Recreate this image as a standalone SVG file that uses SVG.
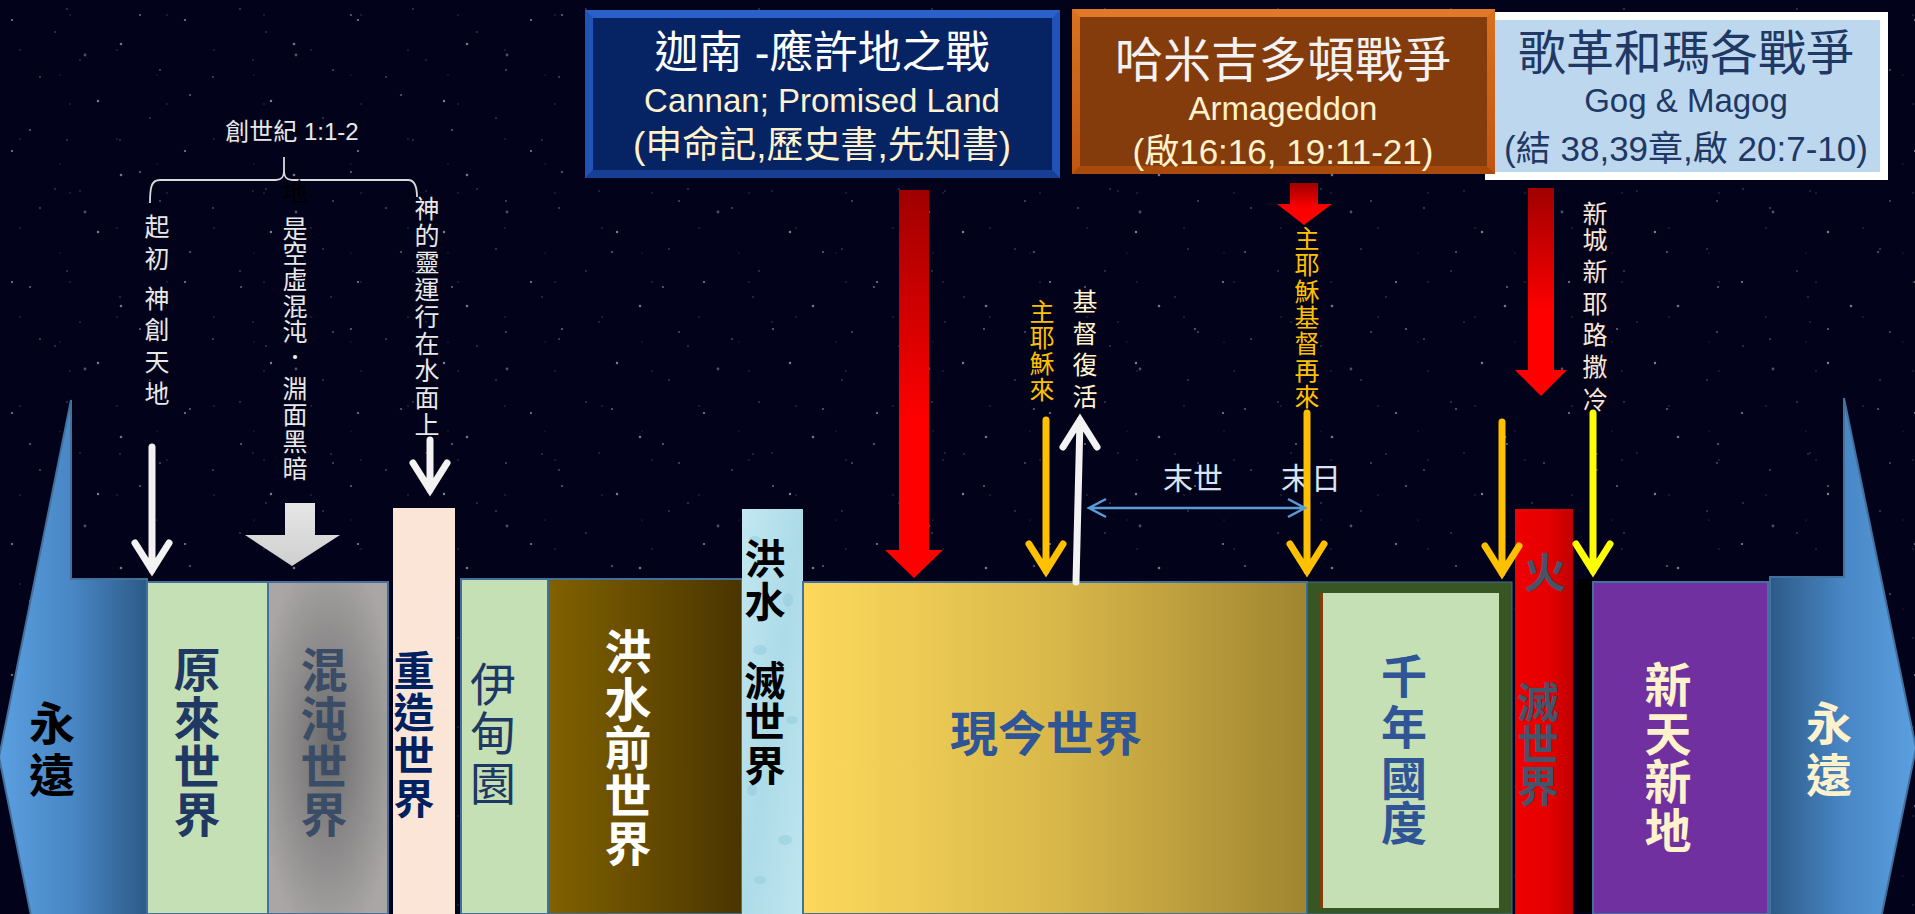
<svg xmlns="http://www.w3.org/2000/svg" width="1915" height="914" viewBox="0 0 1915 914">
<defs>
<style>
.cjk{font-family:'Noto Sans CJK TC','Noto Sans CJK SC',sans-serif}
.mix{font-family:'Liberation Sans','Noto Sans CJK TC',sans-serif;text-anchor:middle}
.vb{font-family:'Noto Sans CJK TC','Noto Sans CJK SC',sans-serif;font-weight:700;text-anchor:middle}
.vs{font-family:'Noto Sans CJK TC','Noto Sans CJK SC',sans-serif;font-size:25px;text-anchor:middle}
.blk{stroke:#41719c;stroke-width:2}
.arr{fill:none;stroke-width:7;stroke-linecap:round;stroke-linejoin:miter}
.w{stroke:#f2f2f2}
.o{stroke:#ffc000}
.y{stroke:#ffff00}
.red{fill:url(#gRed)}
.star{fill:#ffffff}
</style>
<pattern id="stars1" width="173" height="131" patternUnits="userSpaceOnUse">
<circle class="star" cx="12" cy="20" r="1.1" opacity="0.5"/>
<circle class="star" cx="67" cy="9" r="0.8" opacity="0.35"/>
<circle class="star" cx="121" cy="44" r="1.3" opacity="0.45"/>
<circle class="star" cx="40" cy="77" r="0.9" opacity="0.3"/>
<circle class="star" cx="98" cy="101" r="1.2" opacity="0.5"/>
<circle class="star" cx="150" cy="118" r="0.8" opacity="0.35"/>
<circle class="star" cx="160" cy="70" r="1" opacity="0.3"/>
<circle class="star" cx="80" cy="60" r="0.7" opacity="0.3"/>
</pattern>
<pattern id="stars2" width="211" height="157" patternUnits="userSpaceOnUse">
<circle class="star" cx="30" cy="130" r="1" opacity="0.4"/>
<circle class="star" cx="85" cy="55" r="1.4" opacity="0.3"/>
<circle class="star" cx="140" cy="15" r="0.9" opacity="0.45"/>
<circle class="star" cx="190" cy="95" r="1.1" opacity="0.35"/>
<circle class="star" cx="55" cy="32" r="0.7" opacity="0.4"/>
<circle class="star" cx="120" cy="140" r="0.8" opacity="0.3"/>
</pattern>
<pattern id="stars3" width="97" height="89" patternUnits="userSpaceOnUse">
<circle class="star" cx="20" cy="50" r="0.7" opacity="0.25"/>
<circle class="star" cx="70" cy="15" r="0.8" opacity="0.2"/>
<circle class="star" cx="60" cy="75" r="0.6" opacity="0.25"/>
</pattern>
<linearGradient id="gRed" x1="0" y1="0" x2="0" y2="1">
<stop offset="0" stop-color="#a00000"/>
<stop offset="0.6" stop-color="#ff0000"/>
<stop offset="1" stop-color="#ff0000"/>
</linearGradient>
<linearGradient id="gGray" x1="0" y1="0" x2="0" y2="1">
<stop offset="0" stop-color="#e6e6e6"/>
<stop offset="1" stop-color="#cfcfcf"/>
</linearGradient>
<linearGradient id="gLeft" x1="0" y1="0" x2="1" y2="0">
<stop offset="0" stop-color="#5b9fe0"/>
<stop offset="0.5" stop-color="#4886c4"/>
<stop offset="1" stop-color="#2d5a87"/>
</linearGradient>
<linearGradient id="gRight" x1="0" y1="0" x2="1" y2="0">
<stop offset="0" stop-color="#2d5a87"/>
<stop offset="0.5" stop-color="#4886c4"/>
<stop offset="1" stop-color="#5b9fe0"/>
</linearGradient>
<radialGradient id="gChaos" cx="0.5" cy="0.5" r="0.6">
<stop offset="0" stop-color="#6c6c6c"/>
<stop offset="1" stop-color="#aaa6a6"/>
</radialGradient>
<linearGradient id="gFlood" x1="0" y1="0" x2="1" y2="0">
<stop offset="0" stop-color="#816100"/>
<stop offset="1" stop-color="#4a3500"/>
</linearGradient>
<linearGradient id="gNow" x1="0" y1="0" x2="1" y2="0">
<stop offset="0" stop-color="#fcd95c"/>
<stop offset="0.5" stop-color="#d9b84a"/>
<stop offset="1" stop-color="#a08530"/>
</linearGradient>
<linearGradient id="gFire" x1="0" y1="0" x2="1" y2="0">
<stop offset="0" stop-color="#ee0000"/>
<stop offset="0.55" stop-color="#e60000"/>
<stop offset="1" stop-color="#c00000"/>
</linearGradient>
<linearGradient id="gWater" x1="0" y1="0" x2="1" y2="1">
<stop offset="0" stop-color="#c2e8f2"/>
<stop offset="0.5" stop-color="#addbe8"/>
<stop offset="1" stop-color="#bfe6f0"/>
</linearGradient>
<linearGradient id="gOrange" x1="0" y1="0" x2="0" y2="1">
<stop offset="0" stop-color="#d8721f"/>
<stop offset="1" stop-color="#c05510"/>
</linearGradient>
</defs>

<rect class="bg" x="0" y="0" width="1915" height="914" fill="#02031a"/>
<rect x="0" y="0" width="1915" height="914" fill="url(#stars1)"/>
<rect x="0" y="0" width="1915" height="914" fill="url(#stars2)"/>
<rect x="0" y="0" width="1915" height="914" fill="url(#stars3)"/>

<!-- eternity arrows -->
<g id="eternity-left">
<polygon points="147,579 71,579 71,400 -1,757 71,1114 71,935 147,935" fill="url(#gLeft)" stroke="#41719c" stroke-width="2"/>
<text class="vb" font-size="46" fill="#000000" x="52 52" y="740 792">永遠</text>
</g>
<g id="eternity-right">
<polygon points="1770,577 1844,577 1844,398 1916,748 1844,1098 1844,919 1770,919" fill="url(#gRight)" stroke="#41719c" stroke-width="2"/>
<text class="vb" font-size="46" fill="#fff2cc" x="1829 1829" y="740 792">永遠</text>
</g>

<!-- timeline blocks -->
<g id="original-world">
<rect class="blk" x="147" y="582" width="121" height="332" fill="#c5e0b4"/>
<text class="vb" font-size="47" fill="#203864" x="197 197 197 197" y="687 736 784 832">原來世界</text>
</g>
<g id="chaos-world">
<rect class="blk" x="268" y="582" width="120" height="332" fill="url(#gChaos)"/>
<text class="vb" font-size="47" fill="#3b4c66" x="324 324 324 324" y="687 736 784 832">混沌世界</text>
</g>
<g id="recreated-world">
<rect x="393" y="508" width="62" height="406" fill="#fbe5d6"/>
<text class="vb" font-size="41" fill="#002060" x="414 414 414 414" y="686 728 771 814">重造世界</text>
</g>
<g id="eden">
<rect class="blk" x="461" y="579" width="87" height="335" fill="#c5e0b4"/>
<text class="cjk" font-size="46" fill="#203864" text-anchor="middle" x="493 493 493" y="701 750 800">伊甸園</text>
</g>
<g id="pre-flood-world">
<rect class="blk" x="548" y="579" width="194" height="335" fill="url(#gFlood)"/>
<text class="vb" font-size="47" fill="#ffffff" x="628 628 628 628 628" y="669 717 765 813 861">洪水前世界</text>
</g>
<g id="flood">
<rect x="742" y="509" width="61" height="405" fill="url(#gWater)"/>
<g fill="#8fcbdc" opacity="0.45">
<ellipse cx="755" cy="540" rx="6" ry="4"/>
<ellipse cx="788" cy="600" rx="5" ry="7"/>
<ellipse cx="760" cy="650" rx="7" ry="5"/>
<ellipse cx="792" cy="720" rx="6" ry="4"/>
<ellipse cx="752" cy="790" rx="5" ry="6"/>
<ellipse cx="785" cy="840" rx="7" ry="5"/>
<ellipse cx="760" cy="880" rx="6" ry="4"/>
</g>
<text class="vb" font-size="41" fill="#000000" x="765 765 765 765 765" y="574 617 696 737 781">洪水滅世界</text>
</g>
<g id="present-world">
<rect class="blk" x="803" y="582" width="504" height="332" fill="url(#gNow)"/>
<text class="vb" font-size="48" fill="#2f5597" x="1046" y="751">現今世界</text>
</g>
<g id="millennium">
<rect x="1307" y="582" width="205" height="332" fill="#375623" stroke="#41719c" stroke-width="1"/>
<rect x="1320" y="593" width="3" height="315" fill="#843c0c"/>
<rect x="1323" y="593" width="176" height="315" fill="#c5e0b4"/>
<text class="vb" font-size="46" fill="#2f5597" x="1404 1404 1404 1404" y="693 744 795 840">千年國度</text>
</g>
<g id="fire-destruction">
<rect x="1515" y="509" width="58" height="405" fill="url(#gFire)"/>
<text class="vb" font-size="42" fill="#44546a" x="1545" y="588">火</text>
<text class="vb" font-size="42" fill="#44546a" x="1538 1538 1538" y="718 760 802">滅世界</text>
</g>
<g id="divider">
<rect x="1577" y="579" width="16" height="333" fill="#000000"/>
</g>
<g id="new-heaven-earth">
<rect class="blk" x="1593" y="582" width="175" height="332" fill="#7030a0"/>
<text class="vb" font-size="47" fill="#fff2cc" x="1668 1668 1668 1668" y="702 751 799 848">新天新地</text>
</g>

<!-- Genesis annotation -->
<g id="genesis">
<text class="mix" font-size="24" fill="#e8e8e8" x="292" y="140">創世紀 1:1-2</text>
<path d="M150,203 C150,188 151,180 160,180 L276,180 C282,180 284,177 284,170 L284,157 M284,170 C284,177 286,180 292,180 L408,180 C415,180 417,188 417,197" fill="none" stroke="#d9d9d9" stroke-width="1.8"/>
<text class="vs" fill="#e8e8e8" x="157 157 157 157 157 157" y="236 268 308 339 371 403">起初神創天地</text>
<text class="vs" fill="#000000" font-size="22" x="295" y="201">地</text>
<text class="vs" fill="#e8e8e8" x="295 295 295 295 295 295 295 295 295 295" y="238 263 289 316 341 367 398 424 451 478">是空虛混沌．淵面黑暗</text>
<text class="vs" fill="#e8e8e8" x="427 427 427 427 427 427 427 427 427" y="218 245 272 299 326 353 380 407 434">神的靈運行在水面上</text>
</g>

<!-- annotation labels -->
<g id="labels">
<text class="vs" fill="#ffc000" x="1042 1042 1042 1042" y="321 347 373 399">主耶穌來</text>
<text class="vs" fill="#fff2cc" x="1085 1085 1085 1085" y="311 343 374 406">基督復活</text>
<text class="vs" fill="#ffc000" x="1307 1307 1307 1307 1307 1307 1307" y="248 274 301 327 353 380 406">主耶穌基督再來</text>
<text class="vs" fill="#fce4d6" x="1595 1595 1595 1595 1595 1595 1595" y="223 249 281 313 344 376 409">新城新耶路撒冷</text>
<text class="cjk" font-size="30" fill="#dae3f3" text-anchor="middle" x="1193" y="489">末世</text>
<text class="cjk" font-size="30" fill="#dae3f3" text-anchor="middle" x="1311" y="489">末日</text>
</g>

<!-- connectors -->
<g id="connectors">
<path class="arr w" d="M152,447 V570 M135,543 L152,570 L169,543"/>
<path class="arr w" d="M430,440 V490 M413,463 L430,490 L447,463"/>
<polygon points="285,503 315,503 315,535 340,535 292,566 245,535 285,535" fill="url(#gGray)"/>
<path class="arr w" d="M1076,582 L1080,420 M1063,447 L1080,420 L1097,447"/>
<path class="arr o" d="M1046,420 V571 M1029,544 L1046,571 L1063,544"/>
<path class="arr o" d="M1307,413 V571 M1290,544 L1307,571 L1324,544"/>
<path class="arr o" d="M1502,422 V573 M1485,546 L1502,573 L1519,546"/>
<path class="arr y" d="M1593,413 V571 M1576,544 L1593,571 L1610,544"/>
<path d="M1089,508 H1305 M1106,499 L1089,508 L1106,517 M1288,499 L1305,508 L1288,517" fill="none" stroke="#5b9bd5" stroke-width="2.5"/>
<polygon class="red" points="899,190 929,190 929,550 943,550 914,578 885,550 899,550"/>
<polygon class="red" points="1290,183 1318,183 1318,204 1332,204 1304,225 1277,204 1290,204"/>
<polygon class="red" points="1528,188 1554,188 1554,370 1567,370 1541,396 1515,370 1528,370"/>
</g>

<!-- header boxes -->
<g id="canaan-box">
<rect x="585" y="10" width="475" height="168" fill="#2152b6"/>
<polygon points="585,10 1060,10 1052,18 593,18" fill="#2a60c8"/>
<polygon points="585,178 1060,178 1052,170 593,170" fill="#163f94"/>
<rect x="593" y="18" width="459" height="152" fill="#062464"/>
<text class="mix" font-size="44" fill="#ffffff" x="822" y="68">迦南 -應許地之戰</text>
<text class="mix" font-size="33" fill="#fff2cc" x="822" y="112">Cannan; Promised Land</text>
<text class="mix" font-size="37" fill="#fff2cc" x="822" y="158">(申命記,歷史書,先知書)</text>
</g>
<g id="gog-box">
<rect x="1485" y="12" width="403" height="168" fill="#ffffff"/>
<rect x="1495" y="20" width="385" height="152" fill="#bdd7ee"/>
<text class="mix" font-size="48" fill="#1f3864" x="1686" y="70">歌革和瑪各戰爭</text>
<text class="mix" font-size="33" fill="#1f3864" x="1686" y="112">Gog &amp; Magog</text>
<text class="mix" font-size="35" fill="#1f3864" x="1686" y="161">(結 38,39章,啟 20:7-10)</text>
</g>
<g id="armageddon-box">
<rect x="1072" y="9" width="423" height="165" fill="url(#gOrange)"/>
<polygon points="1072,9 1495,9 1487,17 1080,17" fill="#e07a2a"/>
<polygon points="1072,174 1495,174 1487,166 1080,166" fill="#a84a0c"/>
<rect x="1080" y="17" width="407" height="149" fill="#843c0c"/>
<text class="mix" font-size="48" fill="#f2f2f2" x="1283" y="77">哈米吉多頓戰爭</text>
<text class="mix" font-size="33" fill="#fff2cc" x="1283" y="120">Armageddon</text>
<text class="mix" font-size="35" fill="#fff2cc" x="1283" y="164">(啟16:16, 19:11-21)</text>
</g>
</svg>
